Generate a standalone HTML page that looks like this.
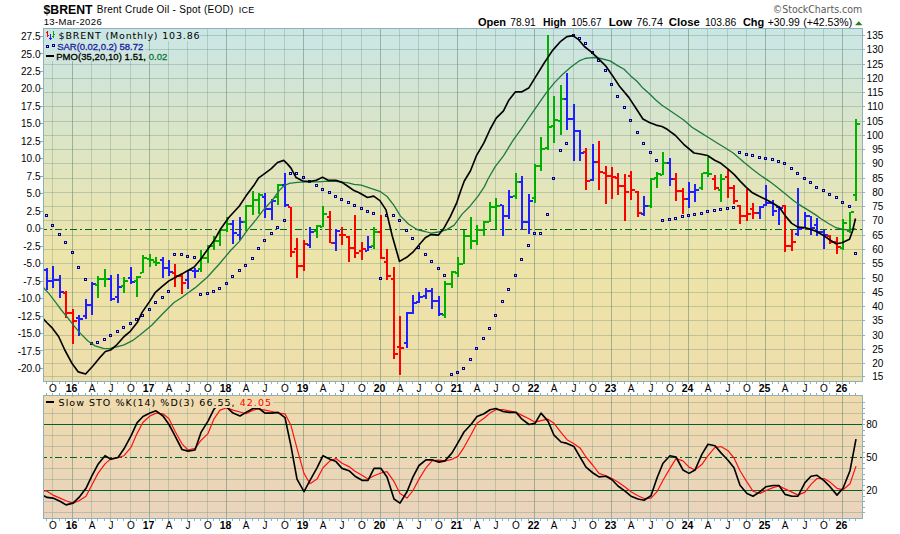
<!DOCTYPE html><html><head><meta charset="utf-8"><style>html,body{margin:0;padding:0;background:#fff;width:900px;height:534px;overflow:hidden}svg{display:block}</style></head><body>
<svg width="900" height="534" viewBox="0 0 900 534" shape-rendering="crispEdges">
<defs>
<linearGradient id="gm" gradientUnits="userSpaceOnUse" x1="0" y1="29" x2="0" y2="381">
<stop offset="0" stop-color="rgb(202,230,228)"/>
<stop offset="0.037" stop-color="rgb(204,230,226)"/>
<stop offset="0.199" stop-color="rgb(212,228,208)"/>
<stop offset="0.361" stop-color="rgb(222,229,194)"/>
<stop offset="0.483" stop-color="rgb(229,229,184)"/>
<stop offset="0.642" stop-color="rgb(237,228,169)"/>
<stop offset="0.764" stop-color="rgb(238,226,168)"/>
<stop offset="0.969" stop-color="rgb(238,222,172)"/>
<stop offset="1" stop-color="rgb(238,221,172)"/>
</linearGradient>
<linearGradient id="gl" gradientUnits="userSpaceOnUse" x1="0" y1="396" x2="0" y2="518">
<stop offset="0" stop-color="rgb(239,219,173)"/>
<stop offset="0.19" stop-color="rgb(238,217,177)"/>
<stop offset="0.92" stop-color="rgb(234,212,188)"/>
<stop offset="1" stop-color="rgb(234,211,189)"/>
</linearGradient>
<clipPath id="cm"><rect x="44" y="29" width="818" height="352"/></clipPath>
<clipPath id="cl"><rect x="275" y="396" width="587" height="122"/><rect x="44" y="408" width="240" height="110"/></clipPath>
</defs>
<rect x="43" y="28" width="819" height="353" fill="url(#gm)"/>
<rect x="43" y="395" width="819" height="123" fill="url(#gl)"/>
<path d="M44 376.5H862M44 363.5H862M44 349.5H862M44 335.5H862M44 320.5H862M44 306.5H862M44 292.5H862M44 278.5H862M44 263.5H862M44 249.5H862M44 235.5H862M44 220.5H862M44 206.5H862M44 192.5H862M44 178.5H862M44 163.5H862M44 149.5H862M44 135.5H862M44 121.5H862M44 106.5H862M44 92.5H862M44 78.5H862M44 64.5H862M44 49.5H862M44 35.5H862M44 512.5H862M44 501.5H862M44 479.5H862M44 468.5H862M44 446.5H862M44 435.5H862M44 413.5H862M44 402.5H862" stroke="rgb(110,145,120)" stroke-opacity="0.36" stroke-width="1" fill="none"/>
<path d="M52.5 29V381M91.5 29V381M110.5 29V381M130.5 29V381M168.5 29V381M187.5 29V381M207.5 29V381M245.5 29V381M264.5 29V381M284.5 29V381M322.5 29V381M341.5 29V381M361.5 29V381M399.5 29V381M418.5 29V381M438.5 29V381M476.5 29V381M495.5 29V381M515.5 29V381M553.5 29V381M573.5 29V381M592.5 29V381M630.5 29V381M650.5 29V381M669.5 29V381M707.5 29V381M727.5 29V381M746.5 29V381M784.5 29V381M804.5 29V381M823.5 29V381M52.5 396V518M91.5 396V518M110.5 396V518M130.5 396V518M168.5 396V518M187.5 396V518M207.5 396V518M245.5 396V518M264.5 396V518M284.5 396V518M322.5 396V518M341.5 396V518M361.5 396V518M399.5 396V518M418.5 396V518M438.5 396V518M476.5 396V518M495.5 396V518M515.5 396V518M553.5 396V518M573.5 396V518M592.5 396V518M630.5 396V518M650.5 396V518M669.5 396V518M707.5 396V518M727.5 396V518M746.5 396V518M784.5 396V518M804.5 396V518M823.5 396V518" stroke="rgb(110,145,120)" stroke-opacity="0.32" stroke-width="1" fill="none"/>
<path d="M72.5 29V381M149.5 29V381M226.5 29V381M303.5 29V381M380.5 29V381M457.5 29V381M534.5 29V381M611.5 29V381M688.5 29V381M765.5 29V381M842.5 29V381M72.5 396V518M149.5 396V518M226.5 396V518M303.5 396V518M380.5 396V518M457.5 396V518M534.5 396V518M611.5 396V518M688.5 396V518M765.5 396V518M842.5 396V518" stroke="rgb(110,145,120)" stroke-opacity="0.6" stroke-width="1" fill="none"/>
<path d="M44 490.5H862" stroke="#006428" stroke-width="1" fill="none"/>
<path d="M44 424.5H862" stroke="#006428" stroke-width="1" fill="none"/>
<path d="M44 457.5H862" stroke="#006428" stroke-width="1" stroke-dasharray="7 3 2 3" stroke-dashoffset="3.7" fill="none"/>
<path d="M44 229.5H862" stroke="#006428" stroke-width="1" stroke-dasharray="7 3 2 3" stroke-dashoffset="3.7" fill="none"/>
<g clip-path="url(#cm)">
<path fill="#2020ff" d="M46 268h2v22h-2z M44 269h2v2h-2z M48 280h3v2h-3z"/>
<path fill="#2020ff" d="M52 266h2v22h-2z M50 280h2v2h-2z M54 279h3v2h-3z"/>
<path fill="#2020ff" d="M59 275h2v23h-2z M57 279h2v2h-2z M61 291h3v2h-3z"/>
<path fill="#ff0000" d="M65 291h2v27h-2z M63 292h2v2h-2z M67 312h3v2h-3z"/>
<path fill="#ff0000" d="M72 309h2v35h-2z M70 312h2v2h-2z M74 320h3v2h-3z"/>
<path fill="#2020ff" d="M78 315h2v21h-2z M76 317h2v2h-2z M80 318h3v2h-3z"/>
<path fill="#2020ff" d="M85 299h2v20h-2z M83 315h2v2h-2z M87 304h3v2h-3z"/>
<path fill="#2020ff" d="M91 282h2v33h-2z M89 304h2v2h-2z M93 283h3v2h-3z"/>
<path fill="#00b000" d="M97 276h2v22h-2z M95 284h2v2h-2z M99 278h3v2h-3z"/>
<path fill="#00b000" d="M104 269h2v18h-2z M102 278h2v2h-2z M106 278h3v2h-3z"/>
<path fill="#2020ff" d="M110 275h2v26h-2z M108 278h2v2h-2z M112 298h3v2h-3z"/>
<path fill="#2020ff" d="M117 274h2v29h-2z M115 296h2v2h-2z M119 286h3v2h-3z"/>
<path fill="#00b000" d="M123 277h2v16h-2z M121 285h2v2h-2z M125 280h3v2h-3z"/>
<path fill="#2020ff" d="M130 267h2v17h-2z M128 277h2v2h-2z M132 281h3v2h-3z"/>
<path fill="#00b000" d="M136 276h2v21h-2z M134 280h2v2h-2z M138 276h3v2h-3z"/>
<path fill="#00b000" d="M142 255h2v18h-2z M140 272h2v2h-2z M144 257h3v2h-3z"/>
<path fill="#00b000" d="M149 254h2v13h-2z M147 258h2v2h-2z M151 259h3v2h-3z"/>
<path fill="#00b000" d="M155 257h2v9h-2z M153 261h2v2h-2z M157 262h3v2h-3z"/>
<path fill="#2020ff" d="M162 257h2v21h-2z M160 259h2v2h-2z M164 267h3v2h-3z"/>
<path fill="#2020ff" d="M168 260h2v16h-2z M166 267h2v2h-2z M170 271h3v2h-3z"/>
<path fill="#ff0000" d="M174 264h2v23h-2z M172 272h2v2h-2z M176 275h3v2h-3z"/>
<path fill="#ff0000" d="M181 273h2v21h-2z M179 275h2v2h-2z M183 282h3v2h-3z"/>
<path fill="#2020ff" d="M187 270h2v19h-2z M185 279h2v2h-2z M189 269h3v2h-3z"/>
<path fill="#2020ff" d="M194 268h2v10h-2z M192 270h2v2h-2z M196 270h3v2h-3z"/>
<path fill="#00b000" d="M200 250h2v22h-2z M198 268h2v2h-2z M202 257h3v2h-3z"/>
<path fill="#00b000" d="M207 245h2v18h-2z M205 257h2v2h-2z M209 245h3v2h-3z"/>
<path fill="#00b000" d="M213 236h2v14h-2z M211 245h2v2h-2z M215 240h3v2h-3z"/>
<path fill="#00b000" d="M219 230h2v16h-2z M217 240h2v2h-2z M221 229h3v2h-3z"/>
<path fill="#00b000" d="M226 217h2v15h-2z M224 229h2v2h-2z M228 223h3v2h-3z"/>
<path fill="#2020ff" d="M232 220h2v24h-2z M230 223h2v2h-2z M234 232h3v2h-3z"/>
<path fill="#2020ff" d="M239 217h2v23h-2z M237 234h2v2h-2z M241 221h3v2h-3z"/>
<path fill="#00b000" d="M245 205h2v26h-2z M243 221h2v2h-2z M247 205h3v2h-3z"/>
<path fill="#00b000" d="M252 191h2v24h-2z M250 205h2v2h-2z M254 199h3v2h-3z"/>
<path fill="#00b000" d="M258 193h2v21h-2z M256 199h2v2h-2z M260 194h3v2h-3z"/>
<path fill="#2020ff" d="M264 193h2v25h-2z M262 196h2v2h-2z M266 208h3v2h-3z"/>
<path fill="#2020ff" d="M271 199h2v21h-2z M269 208h2v2h-2z M273 200h3v2h-3z"/>
<path fill="#00b000" d="M277 184h2v21h-2z M275 196h2v2h-2z M279 184h3v2h-3z"/>
<path fill="#2020ff" d="M284 173h2v34h-2z M282 184h2v2h-2z M286 204h3v2h-3z"/>
<path fill="#ff0000" d="M290 207h2v50h-2z M288 206h2v2h-2z M292 251h3v2h-3z"/>
<path fill="#ff0000" d="M296 238h2v40h-2z M294 248h2v2h-2z M298 265h3v2h-3z"/>
<path fill="#ff0000" d="M303 240h2v31h-2z M301 265h2v2h-2z M305 243h3v2h-3z"/>
<path fill="#2020ff" d="M309 227h2v21h-2z M307 244h2v2h-2z M311 231h3v2h-3z"/>
<path fill="#00b000" d="M316 225h2v13h-2z M314 230h2v2h-2z M318 225h3v2h-3z"/>
<path fill="#00b000" d="M322 206h2v21h-2z M320 226h2v2h-2z M324 213h3v2h-3z"/>
<path fill="#ff0000" d="M329 211h2v32h-2z M327 216h2v2h-2z M331 242h3v2h-3z"/>
<path fill="#2020ff" d="M335 229h2v22h-2z M333 242h2v2h-2z M337 230h3v2h-3z"/>
<path fill="#ff0000" d="M341 227h2v18h-2z M339 234h2v2h-2z M343 234h3v2h-3z"/>
<path fill="#ff0000" d="M348 236h2v26h-2z M346 236h2v2h-2z M350 247h3v2h-3z"/>
<path fill="#ff0000" d="M354 215h2v43h-2z M352 247h2v2h-2z M356 252h3v2h-3z"/>
<path fill="#ff0000" d="M361 242h2v18h-2z M359 250h2v2h-2z M363 248h3v2h-3z"/>
<path fill="#2020ff" d="M367 236h2v15h-2z M365 250h2v2h-2z M369 246h3v2h-3z"/>
<path fill="#00b000" d="M373 227h2v22h-2z M371 245h2v2h-2z M375 231h3v2h-3z"/>
<path fill="#ff0000" d="M380 215h2v44h-2z M378 231h2v2h-2z M382 257h3v2h-3z"/>
<path fill="#ff0000" d="M386 249h2v31h-2z M384 261h2v2h-2z M388 275h3v2h-3z"/>
<path fill="#ff0000" d="M393 267h2v92h-2z M391 278h2v2h-2z M395 353h3v2h-3z"/>
<path fill="#ff0000" d="M399 316h2v59h-2z M397 346h2v2h-2z M401 347h3v2h-3z"/>
<path fill="#2020ff" d="M406 312h2v36h-2z M404 342h2v2h-2z M408 312h3v2h-3z"/>
<path fill="#2020ff" d="M412 295h2v19h-2z M410 312h2v2h-2z M414 302h3v2h-3z"/>
<path fill="#2020ff" d="M418 292h2v11h-2z M416 301h2v2h-2z M420 296h3v2h-3z"/>
<path fill="#2020ff" d="M425 288h2v11h-2z M423 295h2v2h-2z M427 290h3v2h-3z"/>
<path fill="#2020ff" d="M431 288h2v21h-2z M429 290h2v2h-2z M433 300h3v2h-3z"/>
<path fill="#2020ff" d="M438 296h2v20h-2z M436 300h2v2h-2z M440 313h3v2h-3z"/>
<path fill="#00b000" d="M444 281h2v37h-2z M442 314h2v2h-2z M446 283h3v2h-3z"/>
<path fill="#00b000" d="M451 271h2v17h-2z M449 283h2v2h-2z M453 271h3v2h-3z"/>
<path fill="#00b000" d="M457 257h2v20h-2z M455 272h2v2h-2z M459 263h3v2h-3z"/>
<path fill="#00b000" d="M463 230h2v34h-2z M461 263h2v2h-2z M465 235h3v2h-3z"/>
<path fill="#00b000" d="M470 217h2v32h-2z M468 235h2v2h-2z M472 240h3v2h-3z"/>
<path fill="#00b000" d="M476 225h2v20h-2z M474 240h2v2h-2z M478 229h3v2h-3z"/>
<path fill="#00b000" d="M483 221h2v15h-2z M481 229h2v2h-2z M485 221h3v2h-3z"/>
<path fill="#00b000" d="M489 202h2v20h-2z M487 221h2v2h-2z M491 206h3v2h-3z"/>
<path fill="#00b000" d="M495 198h2v31h-2z M493 206h2v2h-2z M497 205h3v2h-3z"/>
<path fill="#2020ff" d="M502 205h2v31h-2z M500 204h2v2h-2z M504 215h3v2h-3z"/>
<path fill="#2020ff" d="M508 190h2v29h-2z M506 215h2v2h-2z M510 196h3v2h-3z"/>
<path fill="#00b000" d="M515 173h2v26h-2z M513 195h2v2h-2z M517 181h3v2h-3z"/>
<path fill="#2020ff" d="M521 176h2v54h-2z M519 181h2v2h-2z M523 221h3v2h-3z"/>
<path fill="#2020ff" d="M528 194h2v40h-2z M526 221h2v2h-2z M530 200h3v2h-3z"/>
<path fill="#00b000" d="M534 164h2v39h-2z M532 197h2v2h-2z M536 165h3v2h-3z"/>
<path fill="#00b000" d="M540 137h2v34h-2z M538 165h2v2h-2z M542 148h3v2h-3z"/>
<path fill="#00b000" d="M547 35h2v115h-2z M545 147h2v2h-2z M549 126h3v2h-3z"/>
<path fill="#00b000" d="M553 96h2v47h-2z M551 125h2v2h-2z M555 119h3v2h-3z"/>
<path fill="#00b000" d="M560 85h2v50h-2z M558 120h2v2h-2z M562 98h3v2h-3z"/>
<path fill="#2020ff" d="M566 73h2v57h-2z M564 98h2v2h-2z M568 118h3v2h-3z"/>
<path fill="#2020ff" d="M573 104h2v57h-2z M571 118h2v2h-2z M575 130h3v2h-3z"/>
<path fill="#2020ff" d="M579 130h2v31h-2z M577 130h2v2h-2z M581 152h3v2h-3z"/>
<path fill="#ff0000" d="M585 148h2v42h-2z M583 151h2v2h-2z M587 180h3v2h-3z"/>
<path fill="#2020ff" d="M592 144h2v37h-2z M590 179h2v2h-2z M594 161h3v2h-3z"/>
<path fill="#ff0000" d="M598 141h2v49h-2z M596 161h2v2h-2z M600 171h3v2h-3z"/>
<path fill="#ff0000" d="M605 166h2v38h-2z M603 172h2v2h-2z M607 175h3v2h-3z"/>
<path fill="#ff0000" d="M611 167h2v32h-2z M609 175h2v2h-2z M613 176h3v2h-3z"/>
<path fill="#ff0000" d="M617 173h2v22h-2z M615 177h2v2h-2z M619 185h3v2h-3z"/>
<path fill="#ff0000" d="M624 174h2v47h-2z M622 185h2v2h-2z M626 191h3v2h-3z"/>
<path fill="#ff0000" d="M630 171h2v29h-2z M628 175h2v2h-2z M632 189h3v2h-3z"/>
<path fill="#ff0000" d="M637 191h2v26h-2z M635 191h2v2h-2z M639 212h3v2h-3z"/>
<path fill="#2020ff" d="M643 196h2v20h-2z M641 213h2v2h-2z M645 205h3v2h-3z"/>
<path fill="#00b000" d="M650 178h2v30h-2z M648 205h2v2h-2z M652 178h3v2h-3z"/>
<path fill="#00b000" d="M656 172h2v16h-2z M654 177h2v2h-2z M658 173h3v2h-3z"/>
<path fill="#00b000" d="M662 152h2v23h-2z M660 174h2v2h-2z M664 162h3v2h-3z"/>
<path fill="#2020ff" d="M669 158h2v28h-2z M667 162h2v2h-2z M671 178h3v2h-3z"/>
<path fill="#ff0000" d="M675 173h2v28h-2z M673 178h2v2h-2z M677 190h3v2h-3z"/>
<path fill="#ff0000" d="M682 188h2v26h-2z M680 190h2v2h-2z M684 198h3v2h-3z"/>
<path fill="#2020ff" d="M688 182h2v26h-2z M686 198h2v2h-2z M690 191h3v2h-3z"/>
<path fill="#2020ff" d="M694 184h2v18h-2z M692 191h2v2h-2z M696 189h3v2h-3z"/>
<path fill="#00b000" d="M701 173h2v17h-2z M699 187h2v2h-2z M703 172h3v2h-3z"/>
<path fill="#00b000" d="M707 157h2v20h-2z M705 172h2v2h-2z M709 173h3v2h-3z"/>
<path fill="#ff0000" d="M714 175h2v15h-2z M712 178h2v2h-2z M716 187h3v2h-3z"/>
<path fill="#00b000" d="M720 174h2v28h-2z M718 189h2v2h-2z M722 178h3v2h-3z"/>
<path fill="#ff0000" d="M727 169h2v29h-2z M725 176h2v2h-2z M729 187h3v2h-3z"/>
<path fill="#ff0000" d="M733 185h2v19h-2z M731 187h2v2h-2z M735 200h3v2h-3z"/>
<path fill="#ff0000" d="M739 205h2v19h-2z M737 205h2v2h-2z M741 215h3v2h-3z"/>
<path fill="#ff0000" d="M746 189h2v32h-2z M744 215h2v2h-2z M748 213h3v2h-3z"/>
<path fill="#ff0000" d="M752 203h2v16h-2z M750 208h2v2h-2z M754 212h3v2h-3z"/>
<path fill="#2020ff" d="M759 206h2v13h-2z M757 212h2v2h-2z M761 206h3v2h-3z"/>
<path fill="#2020ff" d="M765 185h2v21h-2z M763 204h2v2h-2z M767 202h3v2h-3z"/>
<path fill="#2020ff" d="M772 200h2v16h-2z M770 202h2v2h-2z M774 210h3v2h-3z"/>
<path fill="#2020ff" d="M778 206h2v19h-2z M776 206h2v2h-2z M780 207h3v2h-3z"/>
<path fill="#ff0000" d="M784 205h2v47h-2z M782 205h2v2h-2z M786 245h3v2h-3z"/>
<path fill="#ff0000" d="M791 230h2v21h-2z M789 245h2v2h-2z M793 241h3v2h-3z"/>
<path fill="#2020ff" d="M797 188h2v48h-2z M795 233h2v2h-2z M799 228h3v2h-3z"/>
<path fill="#2020ff" d="M804 212h2v16h-2z M802 227h2v2h-2z M806 215h3v2h-3z"/>
<path fill="#2020ff" d="M810 216h2v19h-2z M808 215h2v2h-2z M812 227h3v2h-3z"/>
<path fill="#2020ff" d="M816 218h2v18h-2z M814 224h2v2h-2z M818 231h3v2h-3z"/>
<path fill="#2020ff" d="M823 230h2v19h-2z M821 231h2v2h-2z M825 234h3v2h-3z"/>
<path fill="#ff0000" d="M829 235h2v9h-2z M827 235h2v2h-2z M831 241h3v2h-3z"/>
<path fill="#ff0000" d="M836 237h2v17h-2z M834 241h2v2h-2z M838 246h3v2h-3z"/>
<path fill="#00b000" d="M842 219h2v31h-2z M840 247h2v2h-2z M844 222h3v2h-3z"/>
<path fill="#00b000" d="M849 212h2v21h-2z M847 230h2v2h-2z M851 211h3v2h-3z"/>
<path fill="#00b000" d="M855 119h2v82h-2z M853 194h2v2h-2z M857 123h3v2h-3z"/>
<path d="M45.5 214.5h2v2h-2zM51.5 224.5h2v2h-2zM58.5 233.5h2v2h-2zM64.5 241.5h2v2h-2zM71.5 251.5h2v2h-2zM77.5 266.5h2v2h-2zM84.5 278.5h2v2h-2zM90.5 342.5h2v2h-2zM96.5 341.5h2v2h-2zM103.5 338.5h2v2h-2zM109.5 334.5h2v2h-2zM116.5 330.5h2v2h-2zM122.5 326.5h2v2h-2zM129.5 322.5h2v2h-2zM135.5 318.5h2v2h-2zM141.5 314.5h2v2h-2zM148.5 308.5h2v2h-2zM154.5 301.5h2v2h-2zM161.5 296.5h2v2h-2zM167.5 290.5h2v2h-2zM173.5 253.5h2v2h-2zM180.5 253.5h2v2h-2zM186.5 255.5h2v2h-2zM193.5 256.5h2v2h-2zM199.5 293.5h2v2h-2zM206.5 292.5h2v2h-2zM212.5 290.5h2v2h-2zM218.5 287.5h2v2h-2zM225.5 282.5h2v2h-2zM231.5 275.5h2v2h-2zM238.5 269.5h2v2h-2zM244.5 264.5h2v2h-2zM251.5 257.5h2v2h-2zM257.5 247.5h2v2h-2zM263.5 239.5h2v2h-2zM270.5 232.5h2v2h-2zM276.5 226.5h2v2h-2zM283.5 219.5h2v2h-2zM289.5 172.5h2v2h-2zM295.5 172.5h2v2h-2zM302.5 176.5h2v2h-2zM308.5 180.5h2v2h-2zM315.5 184.5h2v2h-2zM321.5 188.5h2v2h-2zM328.5 191.5h2v2h-2zM334.5 195.5h2v2h-2zM340.5 198.5h2v2h-2zM347.5 201.5h2v2h-2zM353.5 204.5h2v2h-2zM360.5 207.5h2v2h-2zM366.5 210.5h2v2h-2zM372.5 212.5h2v2h-2zM379.5 277.5h2v2h-2zM385.5 214.5h2v2h-2zM392.5 214.5h2v2h-2zM398.5 219.5h2v2h-2zM405.5 229.5h2v2h-2zM411.5 237.5h2v2h-2zM417.5 246.5h2v2h-2zM424.5 253.5h2v2h-2zM430.5 260.5h2v2h-2zM437.5 267.5h2v2h-2zM443.5 274.5h2v2h-2zM450.5 373.5h2v2h-2zM456.5 371.5h2v2h-2zM462.5 367.5h2v2h-2zM469.5 358.5h2v2h-2zM475.5 347.5h2v2h-2zM482.5 337.5h2v2h-2zM488.5 327.5h2v2h-2zM494.5 314.5h2v2h-2zM501.5 300.5h2v2h-2zM507.5 288.5h2v2h-2zM514.5 274.5h2v2h-2zM520.5 258.5h2v2h-2zM527.5 244.5h2v2h-2zM533.5 232.5h2v2h-2zM539.5 232.5h2v2h-2zM546.5 213.5h2v2h-2zM552.5 177.5h2v2h-2zM559.5 149.5h2v2h-2zM565.5 142.5h2v2h-2zM572.5 34.5h2v2h-2zM578.5 37.5h2v2h-2zM584.5 42.5h2v2h-2zM591.5 51.5h2v2h-2zM597.5 59.5h2v2h-2zM604.5 69.5h2v2h-2zM610.5 83.5h2v2h-2zM616.5 95.5h2v2h-2zM623.5 106.5h2v2h-2zM629.5 119.5h2v2h-2zM636.5 131.5h2v2h-2zM642.5 142.5h2v2h-2zM649.5 151.5h2v2h-2zM655.5 159.5h2v2h-2zM661.5 219.5h2v2h-2zM668.5 218.5h2v2h-2zM674.5 217.5h2v2h-2zM681.5 215.5h2v2h-2zM687.5 214.5h2v2h-2zM693.5 213.5h2v2h-2zM700.5 212.5h2v2h-2zM706.5 210.5h2v2h-2zM713.5 209.5h2v2h-2zM719.5 208.5h2v2h-2zM726.5 207.5h2v2h-2zM732.5 206.5h2v2h-2zM738.5 151.5h2v2h-2zM745.5 153.5h2v2h-2zM751.5 154.5h2v2h-2zM758.5 156.5h2v2h-2zM764.5 157.5h2v2h-2zM771.5 158.5h2v2h-2zM777.5 160.5h2v2h-2zM783.5 162.5h2v2h-2zM790.5 167.5h2v2h-2zM796.5 172.5h2v2h-2zM803.5 177.5h2v2h-2zM809.5 181.5h2v2h-2zM815.5 186.5h2v2h-2zM822.5 189.5h2v2h-2zM828.5 193.5h2v2h-2zM835.5 196.5h2v2h-2zM841.5 201.5h2v2h-2zM848.5 205.5h2v2h-2zM854.5 252.5h2v2h-2z" fill="none" stroke="#000090" stroke-width="1"/>
</g>
<g clip-path="url(#cm)" shape-rendering="auto"><path d="M43.5 287.7 L49.2 293.9 L55.5 302.2 L61.7 310.5 L68.0 318.2 L74.2 326.1 L80.4 333.4 L87.7 340.7 L95.0 345.9 L103.3 348.4 L109.5 348.6 L116.8 346.9 L124.1 344.8 L132.4 340.7 L138.6 336.1 L143.0 332.4 L152.0 325.0 L162.2 314.3 L174.0 302.5 L180.7 298.2 L187.5 293.2 L195.0 287.9 L207.2 277.2 L218.4 265.0 L230.6 250.5 L239.2 241.6 L247.6 229.8 L256.0 219.7 L264.5 208.7 L272.5 200.0 L279.2 190.6 L283.7 186.0 L289.3 183.4 L297.2 182.3 L306.2 181.8 L317.4 181.8 L328.7 181.2 L335.9 181.3 L348.2 182.8 L354.0 184.4 L361.3 185.2 L371.6 188.7 L379.9 191.3 L387.1 196.5 L394.3 205.8 L400.5 216.1 L408.7 224.3 L417.0 229.5 L425.2 231.5 L431.0 233.2 L438.5 232.0 L446.4 229.9 L454.2 225.1 L462.1 214.1 L470.0 206.2 L477.9 196.3 L484.4 186.6 L488.0 179.0 L495.2 166.6 L503.5 155.9 L513.2 140.1 L521.5 128.6 L529.7 116.6 L538.0 104.6 L546.2 92.9 L554.5 82.6 L562.7 74.3 L571.0 67.1 L579.2 60.9 L585.0 58.5 L587.6 58.1 L594.2 57.5 L600.7 58.5 L610.1 60.9 L617.6 65.6 L624.1 69.3 L630.7 75.9 L637.2 81.5 L642.9 88.1 L649.4 93.7 L656.0 100.2 L662.0 105.3 L672.0 112.0 L683.7 120.0 L692.0 127.2 L700.2 132.4 L708.5 137.5 L716.7 142.7 L725.0 147.8 L733.2 153.0 L744.2 162.5 L752.5 169.3 L760.7 175.5 L769.0 181.1 L777.2 187.3 L785.5 194.1 L793.7 200.7 L802.0 206.4 L810.2 211.4 L816.0 215.1 L821.0 218.7 L828.5 223.5 L836.0 227.7 L842.0 229.2 L848.0 230.0 L855.5 228.6" stroke="#1c7a40" stroke-width="1.3" fill="none" stroke-linejoin="round"/>
<path d="M43.5 319.0 L47.2 323.0 L52.4 328.2 L58.6 336.5 L64.8 350.0 L72.1 363.6 L78.3 371.9 L85.6 374.0 L92.9 366.0 L99.1 358.4 L105.4 351.5 L110.6 350.0 L116.8 344.8 L124.1 336.5 L130.3 331.3 L137.6 322.0 L141.9 312.6 L149.5 301.6 L155.4 292.3 L162.2 286.4 L168.9 280.9 L175.6 277.2 L181.6 274.1 L187.5 270.8 L194.2 267.0 L200.1 260.0 L205.4 252.6 L213.9 240.8 L220.6 229.0 L229.0 217.2 L239.2 206.2 L245.9 196.1 L250.0 190.6 L254.5 184.4 L258.4 178.2 L264.6 173.7 L271.3 168.7 L277.5 162.5 L283.7 160.4 L287.1 163.6 L291.0 168.1 L296.1 177.6 L302.8 181.0 L309.6 181.6 L316.3 180.2 L322.5 177.3 L328.7 180.4 L335.9 180.3 L342.0 182.4 L348.2 186.5 L354.0 190.6 L359.2 192.8 L367.5 197.5 L373.7 196.1 L379.9 200.6 L386.0 209.9 L392.2 235.7 L399.5 261.4 L406.7 257.3 L412.9 252.2 L419.0 245.0 L425.2 237.7 L431.0 234.6 L438.5 235.1 L443.7 228.6 L450.3 216.7 L456.9 202.3 L460.8 190.5 L464.3 181.0 L470.5 170.7 L476.6 155.3 L483.9 142.9 L490.0 129.5 L496.2 118.1 L503.5 110.9 L508.6 100.6 L515.3 91.9 L521.5 91.9 L528.7 88.1 L535.9 76.4 L544.2 63.0 L552.4 50.6 L560.7 41.3 L566.9 36.6 L573.0 35.6 L578.2 39.3 L584.4 46.5 L591.4 52.1 L597.9 58.1 L605.4 65.6 L612.0 74.9 L619.5 86.2 L628.8 97.4 L636.3 108.7 L642.9 119.0 L649.4 122.4 L656.0 125.1 L662.0 126.5 L667.2 129.3 L675.5 135.5 L683.7 144.3 L694.0 153.0 L700.2 154.0 L707.5 155.5 L714.7 160.2 L720.9 163.3 L728.1 169.1 L734.3 174.6 L740.1 181.1 L746.3 187.3 L752.5 192.8 L758.7 196.1 L764.9 199.0 L772.1 202.7 L779.3 207.3 L785.5 216.1 L791.7 223.4 L797.9 227.1 L804.0 227.5 L810.2 229.1 L816.0 231.2 L824.0 235.8 L830.0 240.0 L836.0 243.8 L842.0 242.7 L849.5 239.2 L852.5 231.0 L855.5 218.5" stroke="#000" stroke-width="1.65" fill="none" stroke-linejoin="round"/></g>
<g clip-path="url(#cl)" shape-rendering="auto"><path d="M44.0 491.0 L47.0 491.2 L53.0 495.1 L60.0 498.1 L66.0 500.8 L73.0 503.1 L79.0 500.8 L86.0 496.2 L92.0 484.8 L98.0 473.4 L105.0 463.9 L111.0 458.6 L118.0 457.5 L124.0 455.7 L131.0 447.3 L137.0 433.6 L143.0 422.2 L150.0 416.0 L156.0 413.1 L163.0 413.8 L169.0 418.8 L175.0 431.3 L182.0 443.8 L188.0 450.0 L195.0 448.4 L201.0 440.4 L208.0 433.6 L214.0 418.8 L220.0 410.1 L227.0 407.8 L233.0 410.1 L240.0 412.0 L246.0 413.8 L253.0 410.1 L259.0 409.0 L265.0 410.1 L272.0 411.5 L278.0 413.1 L285.0 413.8 L291.0 425.6 L297.0 448.4 L304.0 473.4 L310.0 483.7 L317.0 479.1 L323.0 467.8 L330.0 460.9 L336.0 458.6 L342.0 463.2 L349.0 466.6 L355.0 471.2 L362.0 475.3 L368.0 479.1 L374.0 475.7 L381.0 473.0 L387.0 471.6 L394.0 481.4 L400.0 493.5 L407.0 498.1 L413.0 490.5 L419.0 479.1 L426.0 467.8 L432.0 460.9 L439.0 460.2 L445.0 460.9 L452.0 459.3 L458.0 456.4 L464.0 447.3 L471.0 434.7 L477.0 423.3 L484.0 418.3 L490.0 413.1 L496.0 409.7 L503.0 409.7 L509.0 410.8 L516.0 412.4 L522.0 415.4 L529.0 418.8 L535.0 422.2 L541.0 420.6 L548.0 419.2 L554.0 423.3 L561.0 432.4 L567.0 439.7 L574.0 443.8 L580.0 447.9 L586.0 457.0 L593.0 465.5 L599.0 473.4 L606.0 475.7 L612.0 478.5 L618.0 482.1 L625.0 487.1 L631.0 491.7 L638.0 495.8 L644.0 498.5 L651.0 498.1 L657.0 491.7 L663.0 480.3 L670.0 468.4 L676.0 458.6 L683.0 460.9 L689.0 467.1 L695.0 470.0 L702.0 464.3 L708.0 455.7 L715.0 447.3 L721.0 446.6 L728.0 450.7 L734.0 458.0 L740.0 470.7 L747.0 482.1 L753.0 491.2 L760.0 493.5 L766.0 490.5 L773.0 487.6 L779.0 486.0 L785.0 488.9 L792.0 492.1 L798.0 495.1 L805.0 492.1 L811.0 484.4 L817.0 478.5 L824.0 478.5 L830.0 482.1 L837.0 488.3 L843.0 489.8 L850.0 483.7 L856.0 466.1" stroke="#ff1010" stroke-width="1.2" fill="none" stroke-linejoin="round"/>
<path d="M44.0 495.8 L47.0 497.4 L53.0 498.1 L60.0 501.2 L66.0 504.9 L73.0 503.1 L79.0 497.4 L86.0 488.3 L92.0 475.7 L98.0 464.3 L105.0 455.7 L111.0 459.3 L118.0 457.5 L124.0 448.8 L131.0 435.9 L137.0 422.9 L143.0 416.5 L150.0 413.1 L156.0 410.8 L163.0 416.0 L169.0 424.5 L175.0 435.9 L182.0 449.5 L188.0 451.1 L195.0 450.0 L201.0 432.4 L208.0 421.1 L214.0 409.2 L220.0 402.5 L227.0 407.4 L233.0 413.1 L240.0 416.0 L246.0 412.4 L253.0 408.5 L259.0 408.5 L265.0 413.1 L272.0 413.1 L278.0 412.4 L285.0 417.6 L291.0 446.1 L297.0 479.1 L304.0 491.7 L310.0 480.3 L317.0 467.8 L323.0 455.7 L330.0 459.3 L336.0 461.6 L342.0 468.4 L349.0 470.7 L355.0 476.2 L362.0 480.3 L368.0 480.3 L374.0 468.4 L381.0 468.4 L387.0 476.9 L394.0 499.0 L400.0 503.1 L407.0 491.7 L413.0 476.9 L419.0 465.5 L426.0 459.8 L432.0 459.8 L439.0 462.1 L445.0 460.9 L452.0 452.9 L458.0 442.7 L464.0 432.0 L471.0 424.5 L477.0 416.5 L484.0 413.8 L490.0 409.7 L496.0 408.5 L503.0 411.5 L509.0 412.4 L516.0 412.4 L522.0 419.2 L529.0 424.5 L535.0 423.3 L541.0 413.1 L548.0 421.1 L554.0 435.2 L561.0 442.0 L567.0 443.4 L574.0 446.6 L580.0 457.0 L586.0 467.1 L593.0 473.0 L599.0 476.9 L606.0 476.2 L612.0 479.8 L618.0 486.0 L625.0 491.2 L631.0 496.2 L638.0 499.0 L644.0 500.3 L651.0 495.8 L657.0 478.0 L663.0 463.2 L670.0 455.7 L676.0 457.0 L683.0 470.0 L689.0 473.4 L695.0 470.0 L702.0 454.1 L708.0 444.3 L715.0 445.7 L721.0 452.9 L728.0 460.2 L734.0 467.8 L740.0 485.3 L747.0 493.5 L753.0 496.2 L760.0 491.7 L766.0 486.7 L773.0 485.5 L779.0 485.5 L785.0 494.4 L792.0 496.2 L798.0 496.2 L805.0 482.6 L811.0 476.2 L817.0 475.3 L824.0 480.7 L830.0 486.7 L837.0 495.1 L843.0 488.3 L850.0 470.7 L856.0 439.2" stroke="#000" stroke-width="1.65" fill="none" stroke-linejoin="round"/></g>
<rect x="43.5" y="28.5" width="819" height="353" fill="none" stroke="#8eb1b8" stroke-width="1"/>
<rect x="43.5" y="395.5" width="819" height="123" fill="none" stroke="#8eb1b8" stroke-width="1"/>
<path d="M863 376.5h2M863 363.5h2M863 349.5h2M863 335.5h2M863 320.5h2M863 306.5h2M863 292.5h2M863 278.5h2M863 263.5h2M863 249.5h2M863 235.5h2M863 220.5h2M863 206.5h2M863 192.5h2M863 178.5h2M863 163.5h2M863 149.5h2M863 135.5h2M863 121.5h2M863 106.5h2M863 92.5h2M863 78.5h2M863 64.5h2M863 49.5h2M863 35.5h2M40 36.5h3M40 53.5h3M40 71.5h3M40 88.5h3M40 106.5h3M40 123.5h3M40 141.5h3M40 158.5h3M40 176.5h3M40 193.5h3M40 211.5h3M40 228.5h3M40 246.5h3M40 263.5h3M40 281.5h3M40 298.5h3M40 316.5h3M40 333.5h3M40 350.5h3M40 368.5h3M863 512.5h2M863 507.5h2M863 501.5h2M863 496.5h2M863 490.5h2M863 485.5h2M863 479.5h2M863 474.5h2M863 468.5h2M863 463.5h2M863 457.5h2M863 452.5h2M863 446.5h2M863 441.5h2M863 435.5h2M863 430.5h2M863 424.5h2M863 419.5h2M863 413.5h2M863 408.5h2M863 402.5h2M46.5 382v2 M46.5 393v2 M46.5 519v2M52.5 382v2 M52.5 393v2 M52.5 519v2M59.5 382v2 M59.5 393v2 M59.5 519v2M65.5 382v2 M65.5 393v2 M65.5 519v2M72.5 382v2 M72.5 393v2 M72.5 519v2M78.5 382v2 M78.5 393v2 M78.5 519v2M85.5 382v2 M85.5 393v2 M85.5 519v2M91.5 382v2 M91.5 393v2 M91.5 519v2M97.5 382v2 M97.5 393v2 M97.5 519v2M104.5 382v2 M104.5 393v2 M104.5 519v2M110.5 382v2 M110.5 393v2 M110.5 519v2M117.5 382v2 M117.5 393v2 M117.5 519v2M123.5 382v2 M123.5 393v2 M123.5 519v2M130.5 382v2 M130.5 393v2 M130.5 519v2M136.5 382v2 M136.5 393v2 M136.5 519v2M142.5 382v2 M142.5 393v2 M142.5 519v2M149.5 382v2 M149.5 393v2 M149.5 519v2M155.5 382v2 M155.5 393v2 M155.5 519v2M162.5 382v2 M162.5 393v2 M162.5 519v2M168.5 382v2 M168.5 393v2 M168.5 519v2M174.5 382v2 M174.5 393v2 M174.5 519v2M181.5 382v2 M181.5 393v2 M181.5 519v2M187.5 382v2 M187.5 393v2 M187.5 519v2M194.5 382v2 M194.5 393v2 M194.5 519v2M200.5 382v2 M200.5 393v2 M200.5 519v2M207.5 382v2 M207.5 393v2 M207.5 519v2M213.5 382v2 M213.5 393v2 M213.5 519v2M219.5 382v2 M219.5 393v2 M219.5 519v2M226.5 382v2 M226.5 393v2 M226.5 519v2M232.5 382v2 M232.5 393v2 M232.5 519v2M239.5 382v2 M239.5 393v2 M239.5 519v2M245.5 382v2 M245.5 393v2 M245.5 519v2M252.5 382v2 M252.5 393v2 M252.5 519v2M258.5 382v2 M258.5 393v2 M258.5 519v2M264.5 382v2 M264.5 393v2 M264.5 519v2M271.5 382v2 M271.5 393v2 M271.5 519v2M277.5 382v2 M277.5 393v2 M277.5 519v2M284.5 382v2 M284.5 393v2 M284.5 519v2M290.5 382v2 M290.5 393v2 M290.5 519v2M296.5 382v2 M296.5 393v2 M296.5 519v2M303.5 382v2 M303.5 393v2 M303.5 519v2M309.5 382v2 M309.5 393v2 M309.5 519v2M316.5 382v2 M316.5 393v2 M316.5 519v2M322.5 382v2 M322.5 393v2 M322.5 519v2M329.5 382v2 M329.5 393v2 M329.5 519v2M335.5 382v2 M335.5 393v2 M335.5 519v2M341.5 382v2 M341.5 393v2 M341.5 519v2M348.5 382v2 M348.5 393v2 M348.5 519v2M354.5 382v2 M354.5 393v2 M354.5 519v2M361.5 382v2 M361.5 393v2 M361.5 519v2M367.5 382v2 M367.5 393v2 M367.5 519v2M373.5 382v2 M373.5 393v2 M373.5 519v2M380.5 382v2 M380.5 393v2 M380.5 519v2M386.5 382v2 M386.5 393v2 M386.5 519v2M393.5 382v2 M393.5 393v2 M393.5 519v2M399.5 382v2 M399.5 393v2 M399.5 519v2M406.5 382v2 M406.5 393v2 M406.5 519v2M412.5 382v2 M412.5 393v2 M412.5 519v2M418.5 382v2 M418.5 393v2 M418.5 519v2M425.5 382v2 M425.5 393v2 M425.5 519v2M431.5 382v2 M431.5 393v2 M431.5 519v2M438.5 382v2 M438.5 393v2 M438.5 519v2M444.5 382v2 M444.5 393v2 M444.5 519v2M451.5 382v2 M451.5 393v2 M451.5 519v2M457.5 382v2 M457.5 393v2 M457.5 519v2M463.5 382v2 M463.5 393v2 M463.5 519v2M470.5 382v2 M470.5 393v2 M470.5 519v2M476.5 382v2 M476.5 393v2 M476.5 519v2M483.5 382v2 M483.5 393v2 M483.5 519v2M489.5 382v2 M489.5 393v2 M489.5 519v2M495.5 382v2 M495.5 393v2 M495.5 519v2M502.5 382v2 M502.5 393v2 M502.5 519v2M508.5 382v2 M508.5 393v2 M508.5 519v2M515.5 382v2 M515.5 393v2 M515.5 519v2M521.5 382v2 M521.5 393v2 M521.5 519v2M528.5 382v2 M528.5 393v2 M528.5 519v2M534.5 382v2 M534.5 393v2 M534.5 519v2M540.5 382v2 M540.5 393v2 M540.5 519v2M547.5 382v2 M547.5 393v2 M547.5 519v2M553.5 382v2 M553.5 393v2 M553.5 519v2M560.5 382v2 M560.5 393v2 M560.5 519v2M566.5 382v2 M566.5 393v2 M566.5 519v2M573.5 382v2 M573.5 393v2 M573.5 519v2M579.5 382v2 M579.5 393v2 M579.5 519v2M585.5 382v2 M585.5 393v2 M585.5 519v2M592.5 382v2 M592.5 393v2 M592.5 519v2M598.5 382v2 M598.5 393v2 M598.5 519v2M605.5 382v2 M605.5 393v2 M605.5 519v2M611.5 382v2 M611.5 393v2 M611.5 519v2M617.5 382v2 M617.5 393v2 M617.5 519v2M624.5 382v2 M624.5 393v2 M624.5 519v2M630.5 382v2 M630.5 393v2 M630.5 519v2M637.5 382v2 M637.5 393v2 M637.5 519v2M643.5 382v2 M643.5 393v2 M643.5 519v2M650.5 382v2 M650.5 393v2 M650.5 519v2M656.5 382v2 M656.5 393v2 M656.5 519v2M662.5 382v2 M662.5 393v2 M662.5 519v2M669.5 382v2 M669.5 393v2 M669.5 519v2M675.5 382v2 M675.5 393v2 M675.5 519v2M682.5 382v2 M682.5 393v2 M682.5 519v2M688.5 382v2 M688.5 393v2 M688.5 519v2M694.5 382v2 M694.5 393v2 M694.5 519v2M701.5 382v2 M701.5 393v2 M701.5 519v2M707.5 382v2 M707.5 393v2 M707.5 519v2M714.5 382v2 M714.5 393v2 M714.5 519v2M720.5 382v2 M720.5 393v2 M720.5 519v2M727.5 382v2 M727.5 393v2 M727.5 519v2M733.5 382v2 M733.5 393v2 M733.5 519v2M739.5 382v2 M739.5 393v2 M739.5 519v2M746.5 382v2 M746.5 393v2 M746.5 519v2M752.5 382v2 M752.5 393v2 M752.5 519v2M759.5 382v2 M759.5 393v2 M759.5 519v2M765.5 382v2 M765.5 393v2 M765.5 519v2M772.5 382v2 M772.5 393v2 M772.5 519v2M778.5 382v2 M778.5 393v2 M778.5 519v2M784.5 382v2 M784.5 393v2 M784.5 519v2M791.5 382v2 M791.5 393v2 M791.5 519v2M797.5 382v2 M797.5 393v2 M797.5 519v2M804.5 382v2 M804.5 393v2 M804.5 519v2M810.5 382v2 M810.5 393v2 M810.5 519v2M816.5 382v2 M816.5 393v2 M816.5 519v2M823.5 382v2 M823.5 393v2 M823.5 519v2M829.5 382v2 M829.5 393v2 M829.5 519v2M836.5 382v2 M836.5 393v2 M836.5 519v2M842.5 382v2 M842.5 393v2 M842.5 519v2M849.5 382v2 M849.5 393v2 M849.5 519v2M855.5 382v2 M855.5 393v2 M855.5 519v2" stroke="#8eb1b8" stroke-width="1" fill="none"/>
<g font-family="Liberation Sans, sans-serif" font-size="10" fill="#000" shape-rendering="auto">
<text x="883.3" y="379.5" text-anchor="end">15</text>
<text x="883.3" y="366.5" text-anchor="end">20</text>
<text x="883.3" y="352.5" text-anchor="end">25</text>
<text x="883.3" y="338.5" text-anchor="end">30</text>
<text x="883.3" y="323.5" text-anchor="end">35</text>
<text x="883.3" y="309.5" text-anchor="end">40</text>
<text x="883.3" y="295.5" text-anchor="end">45</text>
<text x="883.3" y="281.5" text-anchor="end">50</text>
<text x="883.3" y="266.5" text-anchor="end">55</text>
<text x="883.3" y="252.5" text-anchor="end">60</text>
<text x="883.3" y="238.5" text-anchor="end">65</text>
<text x="883.3" y="223.5" text-anchor="end">70</text>
<text x="883.3" y="209.5" text-anchor="end">75</text>
<text x="883.3" y="195.5" text-anchor="end">80</text>
<text x="883.3" y="181.5" text-anchor="end">85</text>
<text x="883.3" y="166.5" text-anchor="end">90</text>
<text x="883.3" y="152.5" text-anchor="end">95</text>
<text x="883.3" y="138.5" text-anchor="end">100</text>
<text x="883.3" y="124.5" text-anchor="end">105</text>
<text x="883.3" y="109.5" text-anchor="end">110</text>
<text x="883.3" y="95.5" text-anchor="end">115</text>
<text x="883.3" y="81.5" text-anchor="end">120</text>
<text x="883.3" y="67.5" text-anchor="end">125</text>
<text x="883.3" y="52.5" text-anchor="end">130</text>
<text x="883.3" y="38.5" text-anchor="end">135</text>
<text x="40.5" y="40.0" text-anchor="end">27.5</text>
<text x="40.5" y="57.5" text-anchor="end">25.0</text>
<text x="40.5" y="74.9" text-anchor="end">22.5</text>
<text x="40.5" y="92.4" text-anchor="end">20.0</text>
<text x="40.5" y="109.9" text-anchor="end">17.5</text>
<text x="40.5" y="127.4" text-anchor="end">15.0</text>
<text x="40.5" y="144.8" text-anchor="end">12.5</text>
<text x="40.5" y="162.3" text-anchor="end">10.0</text>
<text x="40.5" y="179.8" text-anchor="end">7.5</text>
<text x="40.5" y="197.3" text-anchor="end">5.0</text>
<text x="40.5" y="214.8" text-anchor="end">2.5</text>
<text x="40.5" y="232.2" text-anchor="end">0.0</text>
<text x="40.5" y="249.7" text-anchor="end">-2.5</text>
<text x="40.5" y="267.2" text-anchor="end">-5.0</text>
<text x="40.5" y="284.7" text-anchor="end">-7.5</text>
<text x="40.5" y="302.1" text-anchor="end">-10.0</text>
<text x="40.5" y="319.6" text-anchor="end">-12.5</text>
<text x="40.5" y="337.1" text-anchor="end">-15.0</text>
<text x="40.5" y="354.6" text-anchor="end">-17.5</text>
<text x="40.5" y="372.0" text-anchor="end">-20.0</text>
<text x="866.3" y="493.7">20</text>
<text x="866.3" y="460.7">50</text>
<text x="866.3" y="427.7">80</text>
</g>
<g font-family="Liberation Sans, sans-serif" font-size="10" fill="#000" text-anchor="middle" shape-rendering="auto">
<text x="53.0" y="391.7">O</text>
<text x="71.6" y="391.7" font-weight="bold" font-size="10.5">16</text>
<text x="92.0" y="391.7">A</text>
<text x="111.0" y="391.7">J</text>
<text x="131.0" y="391.7">O</text>
<text x="148.6" y="391.7" font-weight="bold" font-size="10.5">17</text>
<text x="169.0" y="391.7">A</text>
<text x="188.0" y="391.7">J</text>
<text x="208.0" y="391.7">O</text>
<text x="225.6" y="391.7" font-weight="bold" font-size="10.5">18</text>
<text x="246.0" y="391.7">A</text>
<text x="265.0" y="391.7">J</text>
<text x="285.0" y="391.7">O</text>
<text x="302.6" y="391.7" font-weight="bold" font-size="10.5">19</text>
<text x="323.0" y="391.7">A</text>
<text x="342.0" y="391.7">J</text>
<text x="362.0" y="391.7">O</text>
<text x="379.6" y="391.7" font-weight="bold" font-size="10.5">20</text>
<text x="400.0" y="391.7">A</text>
<text x="419.0" y="391.7">J</text>
<text x="439.0" y="391.7">O</text>
<text x="456.6" y="391.7" font-weight="bold" font-size="10.5">21</text>
<text x="477.0" y="391.7">A</text>
<text x="496.0" y="391.7">J</text>
<text x="516.0" y="391.7">O</text>
<text x="533.6" y="391.7" font-weight="bold" font-size="10.5">22</text>
<text x="554.0" y="391.7">A</text>
<text x="574.0" y="391.7">J</text>
<text x="593.0" y="391.7">O</text>
<text x="610.6" y="391.7" font-weight="bold" font-size="10.5">23</text>
<text x="631.0" y="391.7">A</text>
<text x="651.0" y="391.7">J</text>
<text x="670.0" y="391.7">O</text>
<text x="687.6" y="391.7" font-weight="bold" font-size="10.5">24</text>
<text x="708.0" y="391.7">A</text>
<text x="728.0" y="391.7">J</text>
<text x="747.0" y="391.7">O</text>
<text x="764.6" y="391.7" font-weight="bold" font-size="10.5">25</text>
<text x="785.0" y="391.7">A</text>
<text x="805.0" y="391.7">J</text>
<text x="824.0" y="391.7">O</text>
<text x="841.6" y="391.7" font-weight="bold" font-size="10.5">26</text>
</g>
<g font-family="Liberation Sans, sans-serif" font-size="10" fill="#000" text-anchor="middle" shape-rendering="auto">
<text x="53.0" y="528.5">O</text>
<text x="71.6" y="528.5" font-weight="bold" font-size="10.5">16</text>
<text x="92.0" y="528.5">A</text>
<text x="111.0" y="528.5">J</text>
<text x="131.0" y="528.5">O</text>
<text x="148.6" y="528.5" font-weight="bold" font-size="10.5">17</text>
<text x="169.0" y="528.5">A</text>
<text x="188.0" y="528.5">J</text>
<text x="208.0" y="528.5">O</text>
<text x="225.6" y="528.5" font-weight="bold" font-size="10.5">18</text>
<text x="246.0" y="528.5">A</text>
<text x="265.0" y="528.5">J</text>
<text x="285.0" y="528.5">O</text>
<text x="302.6" y="528.5" font-weight="bold" font-size="10.5">19</text>
<text x="323.0" y="528.5">A</text>
<text x="342.0" y="528.5">J</text>
<text x="362.0" y="528.5">O</text>
<text x="379.6" y="528.5" font-weight="bold" font-size="10.5">20</text>
<text x="400.0" y="528.5">A</text>
<text x="419.0" y="528.5">J</text>
<text x="439.0" y="528.5">O</text>
<text x="456.6" y="528.5" font-weight="bold" font-size="10.5">21</text>
<text x="477.0" y="528.5">A</text>
<text x="496.0" y="528.5">J</text>
<text x="516.0" y="528.5">O</text>
<text x="533.6" y="528.5" font-weight="bold" font-size="10.5">22</text>
<text x="554.0" y="528.5">A</text>
<text x="574.0" y="528.5">J</text>
<text x="593.0" y="528.5">O</text>
<text x="610.6" y="528.5" font-weight="bold" font-size="10.5">23</text>
<text x="631.0" y="528.5">A</text>
<text x="651.0" y="528.5">J</text>
<text x="670.0" y="528.5">O</text>
<text x="687.6" y="528.5" font-weight="bold" font-size="10.5">24</text>
<text x="708.0" y="528.5">A</text>
<text x="728.0" y="528.5">J</text>
<text x="747.0" y="528.5">O</text>
<text x="764.6" y="528.5" font-weight="bold" font-size="10.5">25</text>
<text x="785.0" y="528.5">A</text>
<text x="805.0" y="528.5">J</text>
<text x="824.0" y="528.5">O</text>
<text x="841.6" y="528.5" font-weight="bold" font-size="10.5">26</text>
</g>
<path d="M44 29H200V41H44z M44 41H145V51H44z M44 51H168V61H44z" fill="url(#gm)"/>
<path d="M44 397H273V408H44z" fill="url(#gl)"/>
<g shape-rendering="auto">
<text x="43.5" y="13.9" font-family="Liberation Sans, sans-serif" font-size="13.5" textLength="49" lengthAdjust="spacingAndGlyphs" font-weight="bold">$BRENT</text>
<text x="96.7" y="12.7" font-family="Liberation Sans, sans-serif" font-size="10" textLength="136.6" lengthAdjust="spacing" >Brent Crude Oil - Spot (EOD)</text>
<text x="238.7" y="12.7" font-family="Liberation Sans, sans-serif" font-size="9" textLength="15.6" lengthAdjust="spacing" >ICE</text>
<text x="43.7" y="25.3" font-family="Liberation Sans, sans-serif" font-size="9.5" textLength="58" lengthAdjust="spacing" >13-Mar-2026</text>
<text x="772.8" y="12.9" font-family="DejaVu Sans, sans-serif" font-size="10" fill="#5a5a5a" textLength="89.4" lengthAdjust="spacingAndGlyphs">©StockCharts.com</text>
<text x="477.9" y="25.7" font-family="Liberation Sans, sans-serif" font-size="11" textLength="28.2" lengthAdjust="spacingAndGlyphs" font-weight="bold">Open</text>
<text x="510.2" y="25.7" font-family="Liberation Sans, sans-serif" font-size="10" textLength="25.6" lengthAdjust="spacingAndGlyphs" >78.91</text>
<text x="543" y="25.7" font-family="Liberation Sans, sans-serif" font-size="11" textLength="23.1" lengthAdjust="spacingAndGlyphs" font-weight="bold">High</text>
<text x="571.2" y="25.7" font-family="Liberation Sans, sans-serif" font-size="10" textLength="30.4" lengthAdjust="spacingAndGlyphs" >105.67</text>
<text x="608.8" y="25.7" font-family="Liberation Sans, sans-serif" font-size="11" textLength="23.1" lengthAdjust="spacingAndGlyphs" font-weight="bold">Low</text>
<text x="636.2" y="25.7" font-family="Liberation Sans, sans-serif" font-size="10" textLength="26.8" lengthAdjust="spacingAndGlyphs" >76.74</text>
<text x="668.8" y="25.7" font-family="Liberation Sans, sans-serif" font-size="11" textLength="31.0" lengthAdjust="spacingAndGlyphs" font-weight="bold">Close</text>
<text x="704.9" y="25.7" font-family="Liberation Sans, sans-serif" font-size="10" textLength="31.4" lengthAdjust="spacingAndGlyphs" >103.86</text>
<text x="742.9" y="25.7" font-family="Liberation Sans, sans-serif" font-size="11" textLength="21.3" lengthAdjust="spacingAndGlyphs" font-weight="bold">Chg</text>
<text x="767.8" y="25.7" font-family="Liberation Sans, sans-serif" font-size="10" textLength="32.0" lengthAdjust="spacingAndGlyphs" >+30.99</text>
<text x="803.3" y="25.7" font-family="Liberation Sans, sans-serif" font-size="10" textLength="48.9" lengthAdjust="spacingAndGlyphs" >(+42.53%)</text>
<path d="M855 25.3l3.75-4.1l3.75 4.1z" fill="#2a7a2a"/>
<text x="58.6" y="38.7" font-family="DejaVu Sans, sans-serif" font-size="9.5" textLength="141" lengthAdjust="spacing">$BRENT (Monthly) 103.86</text>
<text x="57.2" y="49.7" font-family="Liberation Sans, sans-serif" font-size="9.5" textLength="86" lengthAdjust="spacing" fill="#1c1ca0" stroke="#1c1ca0" stroke-width="0.3">SAR(0.02,0.2) 58.72</text>
<text x="56.2" y="60.1" font-family="Liberation Sans, sans-serif" font-size="9.5" textLength="111.2" lengthAdjust="spacing" stroke="#000" stroke-width="0.3">PMO(35,20,10) 1.51, <tspan fill="#0a7a3a" stroke="#0a7a3a">0.02</tspan></text>
<text x="58.6" y="405.9" font-family="DejaVu Sans, sans-serif" font-size="9.5" textLength="212.4" lengthAdjust="spacing">Slow STO %K(14) %D(3) 66.55, <tspan fill="#ff0000">42.05</tspan></text>
</g>
<path d="M47 31h1v6h-1z M46 32h1v1h-1z M48 35h1v1h-1z" fill="#ff0000"/>
<path d="M50 34h1v6h-1z M49 38h3v1h-3z" fill="#2020ff"/>
<path d="M53 31h1v7h-1z M54 34h1v1h-1z M52 36h1v1h-1z" fill="#00b000"/>
<path d="M46.5 45.5h2v2h-2z M52.5 44.5h2v2h-2z" fill="none" stroke="#000090"/>
<path d="M46 55h8v2h-8z" fill="#000"/>
<path d="M46 401h8v2h-8z" fill="#000"/>
</svg></body></html>
